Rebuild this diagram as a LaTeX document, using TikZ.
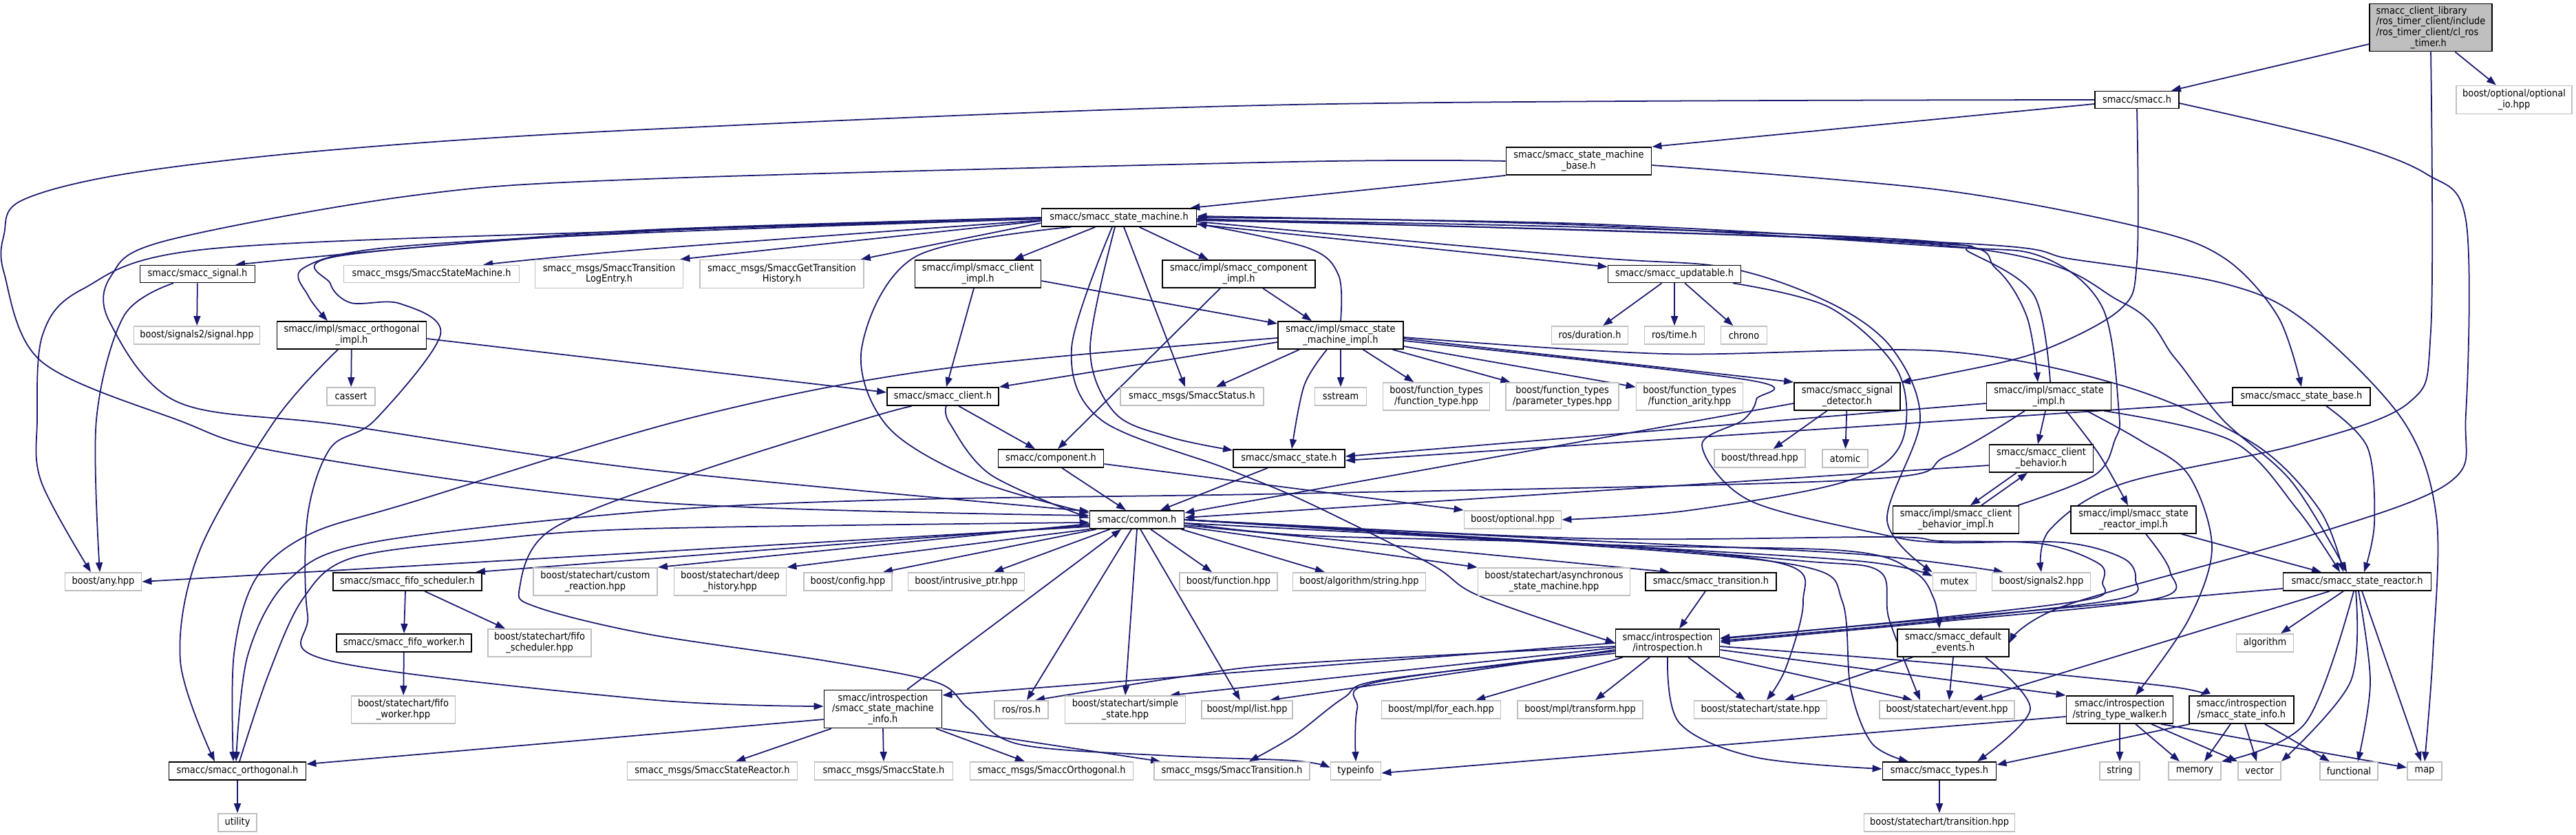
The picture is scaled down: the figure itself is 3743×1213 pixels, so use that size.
\documentclass[tikz,border=0pt]{standalone}
\usepackage{fontspec}
\setmainfont{DejaVu Sans Condensed}
\usetikzlibrary{arrows.meta,backgrounds}
\definecolor{edgeblue}{RGB}{25,25,112}
\definecolor{extgray}{RGB}{191,191,191}
\definecolor{rootgray}{RGB}{191,191,191}
\newcommand{\nfs}{\fontsize{4.1pt}{4.45pt}\selectfont}
\begin{document}
\begin{tikzpicture}[x=0.01cm,y=-0.01cm,
  pn/.style={draw=black, fill=white, line width=0.5pt, inner sep=0pt, align=center, font=\nfs},
  xn/.style={draw=extgray, fill=white, line width=0.5pt, inner sep=0pt, align=center, font=\nfs},
  sz/.style 2 args={minimum width=#1*0.01cm, minimum height=#2*0.01cm},
  edg/.style={draw=edgeblue, line width=0.5pt, -{Triangle[length=0.14cm,width=0.1cm]}},
  sm/.style={smooth, tension=0.55}]
\useasboundingbox (0,0) rectangle (3743,1213);
% ---------- project nodes
\node[pn, fill=rootgray, sz={178}{69}, align=left] (root) at (3532,40) {smacc\_client\_library\\/ros\_timer\_client/include\\/ros\_timer\_client/cl\_ros\\\hspace*{0.5cm}\_timer.h};
\node[pn, sz={122}{25}] (smacch) at (3105,145) {smacc/smacc.h};
\node[pn, sz={211}{40}] (smb) at (2294,234) {smacc/smacc\_state\_machine\\\_base.h};
\node[pn, sz={225}{26}] (smh) at (1626,316) {smacc/smacc\_state\_machine.h};
\node[pn, sz={167}{25}] (sigh) at (287,398) {smacc/smacc\_signal.h};
\node[pn, sz={183}{40}] (climpl) at (1421,398) {smacc/impl/smacc\_client\\\_impl.h};
\node[pn, sz={222}{40}] (compimpl) at (1800,398) {smacc/impl/smacc\_component\\\_impl.h};
\node[pn, sz={193}{25}] (upd) at (2433,398) {smacc/smacc\_updatable.h};
\node[pn, sz={217}{40}] (orthimpl) at (511,487) {smacc/impl/smacc\_orthogonal\\\_impl.h};
\node[pn, sz={182}{40}] (smimpl) at (1948,487) {smacc/impl/smacc\_state\\\_machine\_impl.h};
\node[pn, sz={162}{26}] (clh) at (1370,576) {smacc/smacc\_client.h};
\node[pn, sz={154}{40}] (sigdet) at (2684,576) {smacc/smacc\_signal\\\_detector.h};
\node[pn, sz={181}{40}] (stimpl) at (2977,576) {smacc/impl/smacc\_state\\\_impl.h};
\node[pn, sz={200}{26}] (stbase) at (3344,576) {smacc/smacc\_state\_base.h};
\node[pn, sz={153}{26}] (comph) at (1527,666) {smacc/component.h};
\node[pn, sz={162}{26}] (sstate) at (1873,666) {smacc/smacc\_state.h};
\node[pn, sz={151}{40}] (cb) at (2966,666) {smacc/smacc\_client\\\_behavior.h};
\node[pn, sz={137}{26}] (common) at (1652,755) {smacc/common.h};
\node[pn, sz={183}{40}] (cbimpl) at (2842,755) {smacc/impl/smacc\_client\\\_behavior\_impl.h};
\node[pn, sz={182}{40}] (srimpl) at (3100,755) {smacc/impl/smacc\_state\\\_reactor\_impl.h};
\node[pn, sz={216}{26}] (fifosch) at (592,845) {smacc/smacc\_fifo\_scheduler.h};
\node[pn, sz={190}{26}] (trans) at (2486,845) {smacc/smacc\_transition.h};
\node[pn, sz={215}{26}] (sr) at (3425,845) {smacc/smacc\_state\_reactor.h};
\node[pn, sz={196}{26}] (fifowk) at (587,934) {smacc/smacc\_fifo\_worker.h};
\node[pn, sz={151}{40}] (intro) at (2423,934) {smacc/introspection\\/introspection.h};
\node[pn, sz={162}{40}] (defev) at (2838,934) {smacc/smacc\_default\\\_events.h};
\node[pn, sz={171}{55}] (sminfo) at (1283,1030) {smacc/introspection\\/smacc\_state\_machine\\\_info.h};
\node[pn, sz={155}{40}] (stw) at (3080,1031) {smacc/introspection\\/string\_type\_walker.h};
\node[pn, sz={152}{40}] (stinfo) at (3257,1031) {smacc/introspection\\/smacc\_state\_info.h};
\node[pn, sz={199}{26}] (orth) at (345,1120) {smacc/smacc\_orthogonal.h};
\node[pn, sz={165}{26}] (types) at (2818,1120) {smacc/smacc\_types.h};
% ---------- external nodes
\node[xn, sz={168}{41}] (optio) at (3653,145) {boost/optional/optional\\\_io.hpp};
\node[xn, sz={255}{25}] (msgsm) at (627,398) {smacc\_msgs/SmaccStateMachine.h};
\node[xn, sz={215}{41}] (msglog) at (885,398) {smacc\_msgs/SmaccTransition\\LogEntry.h};
\node[xn, sz={238}{41}] (msggth) at (1136,398) {smacc\_msgs/SmaccGetTransition\\History.h};
\node[xn, sz={183}{26}] (sigsig) at (286,487) {boost/signals2/signal.hpp};
\node[xn, sz={111}{26}] (dur) at (2310,487) {ros/duration.h};
\node[xn, sz={87}{26}] (rtime) at (2433,487) {ros/time.h};
\node[xn, sz={67}{26}] (chrono) at (2534,487) {chrono};
\node[xn, sz={70}{26}] (cassert) at (510,576) {cassert};
\node[xn, sz={208}{26}] (msgstat) at (1732,576) {smacc\_msgs/SmaccStatus.h};
\node[xn, sz={75}{26}] (sstream) at (1948,576) {sstream};
\node[xn, sz={155}{40}] (ftype) at (2087,576) {boost/function\_types\\/function\_type.hpp};
\node[xn, sz={164}{40}] (ptypes) at (2270,576) {boost/function\_types\\/parameter\_types.hpp};
\node[xn, sz={155}{40}] (farity) at (2455,576) {boost/function\_types\\/function\_arity.hpp};
\node[xn, sz={132}{26}] (thread) at (2557,666) {boost/thread.hpp};
\node[xn, sz={66}{26}] (atomic) at (2681,666) {atomic};
\node[xn, sz={141}{26}] (opt) at (2198,755) {boost/optional.hpp};
\node[xn, sz={111}{26}] (anyh) at (150,845) {boost/any.hpp};
\node[xn, sz={180}{40}] (custom) at (865,845) {boost/statechart/custom\\\_reaction.hpp};
\node[xn, sz={163}{40}] (deep) at (1061,845) {boost/statechart/deep\\\_history.hpp};
\node[xn, sz={128}{26}] (config) at (1232,845) {boost/config.hpp};
\node[xn, sz={169}{26}] (intr) at (1404,845) {boost/intrusive\_ptr.hpp};
\node[xn, sz={142}{26}] (func) at (1785,845) {boost/function.hpp};
\node[xn, sz={193}{26}] (algstr) at (1975,845) {boost/algorithm/string.hpp};
\node[xn, sz={221}{40}] (async) at (2258,845) {boost/statechart/asynchronous\\\_state\_machine.hpp};
\node[xn, sz={63}{26}] (mutex) at (2840,845) {mutex};
\node[xn, sz={143}{26}] (sigtwo) at (2966,845) {boost/signals2.hpp};
\node[xn, sz={150}{40}] (fifoschhpp) at (784,934) {boost/statechart/fifo\\\_scheduler.hpp};
\node[xn, sz={83}{26}] (algo) at (3291,934) {algorithm};
\node[xn, sz={151}{40}] (fifowkhpp) at (586,1031) {boost/statechart/fifo\\\_worker.hpp};
\node[xn, sz={78}{26}] (ros) at (1484,1031) {ros/ros.h};
\node[xn, sz={175}{40}] (simple) at (1635,1031) {boost/statechart/simple\\\_state.hpp};
\node[xn, sz={132}{26}] (mpllist) at (1812,1031) {boost/mpl/list.hpp};
\node[xn, sz={173}{26}] (foreach) at (2094,1031) {boost/mpl/for\_each.hpp};
\node[xn, sz={182}{26}] (transf) at (2296,1031) {boost/mpl/transform.hpp};
\node[xn, sz={193}{26}] (scstate) at (2558,1031) {boost/statechart/state.hpp};
\node[xn, sz={196}{26}] (event) at (2829,1031) {boost/statechart/event.hpp};
\node[xn, sz={247}{26}] (msgsr) at (1035,1120) {smacc\_msgs/SmaccStateReactor.h};
\node[xn, sz={201}{26}] (msgst) at (1284,1120) {smacc\_msgs/SmaccState.h};
\node[xn, sz={237}{26}] (msgorth) at (1528,1120) {smacc\_msgs/SmaccOrthogonal.h};
\node[xn, sz={226}{26}] (msgtr) at (1790,1120) {smacc\_msgs/SmaccTransition.h};
\node[xn, sz={73}{26}] (typeinfo) at (1970,1120) {typeinfo};
\node[xn, sz={58}{26}] (string) at (3080,1120) {string};
\node[xn, sz={76}{26}] (memory) at (3189,1120) {memory};
\node[xn, sz={62}{26}] (vector) at (3283,1120) {vector};
\node[xn, sz={84}{26}] (functional) at (3413,1120) {functional};
\node[xn, sz={50}{26}] (maph) at (3523,1120) {map};
\node[xn, sz={56}{26}] (utility) at (345,1195) {utility};
\node[xn, sz={219}{26}] (trhpp) at (2818,1195) {boost/statechart/transition.hpp};

\begin{pgfonlayer}{background}
\fill[white] (0,0) rectangle (3743,1213);
% root
\draw[edg] (root.195) -- ([xshift=-0.12cm]smacch.north east);
\draw[edg] (root.-45) -- ([xshift=-0.26cm]optio.north);
\draw[edg] plot[sm] coordinates {(root.south) (3532,480) (3500,585) (3338,646) (3083,703) (2978,770) (sigtwo.north)};
% smacc.h
\draw[edg] ([yshift=-0.06cm]smacch.west) -- (smb.north east);
\draw[edg] plot[sm] coordinates {(smacch.west) (1880,152) (940,188) (480,218) (180,253) (30,292) (6,340) (6,397) (60,525) (258,610) (420,659) (940,729) (common.175)};
\draw[edg] plot[sm] coordinates {(smacch.south) (3105,380) (3080,450) (2960,512) (2820,545) (sigdet.north east)};
\draw[edg] plot[sm] coordinates {([yshift=-0.05cm]smacch.east) (3400,205) (3526,253) (3583,320) (3583,600) (3560,700) (3350,780) (3000,880) (defev.east)};
% base
\draw[edg] (smb.south west) -- ([xshift=-0.1cm]smh.north east);
\draw[edg] plot[sm] coordinates {(smb.west) (1880,235) (940,260) (600,284) (240,350) (162,400) (159,467) (258,584) (500,618) (940,682) (common.170)};
\draw[edg] plot[sm] coordinates {([yshift=-0.06cm]smb.east) (2820,276) (3114,331) (3232,375) (3310,460) (stbase.north)};
% state machine
\draw[edg] plot[sm] coordinates {(smh.west) (940,334) (600,360) ([xshift=0.55cm]sigh.north)};
\draw[edg] plot[sm] coordinates {([yshift=-0.04cm]smh.west) (940,362) ([xshift=0.75cm]msgsm.north)};
\draw[edg] ([yshift=-0.05cm]smh.west) -- ([xshift=-0.05cm]msglog.north east);
\draw[edg] ([yshift=-0.08cm]smh.west) -- ([xshift=-0.05cm]msggth.north east);
\draw[edg] (smh) -- (climpl);
\draw[edg] (smh) -- (compimpl);
\draw[edg] ([yshift=-0.1cm]smh.east) -- ([yshift=-0.03cm]upd.north west);
\draw[edg] plot[sm] coordinates {([yshift=-0.02cm]smh.west) (940,338) (560,360) (440,390) (448,430) ([xshift=-0.35cm]orthimpl.north)};
\draw[edg] plot[sm] coordinates {([yshift=-0.02cm]smh.west) (940,335) (300,362) (120,420) (62,486) (54,610) (60,700) ([xshift=-0.18cm]anyh.north)};
\draw[edg] plot[sm] coordinates {(smh.west) (940,336) (492,372) (480,412) (510,440) (581,441) (640,486) (545,610) (480,651) (447,749) (447,893) (480,960) (940,1016) ([yshift=0.04cm]sminfo.west)};
\draw[edg] plot[sm] coordinates {([xshift=-0.7cm]smh.south) (1330,373) (1252,506) (1290,620) (1420,698) (common.172)};
\draw[edg] plot[sm] coordinates {([xshift=-0.1cm]smh.south) (1557,506) (1600,610) (1780,680) (1900,730) (2078,819) (2150,866) (intro.west)};
\draw[edg] plot[sm] coordinates {([xshift=-0.06cm]smh.south) (1584,506) (1620,600) (1700,635) ([yshift=-0.02cm]sstate.north west)};
\draw[edg] ([xshift=0.07cm]smh.south) -- ([xshift=-0.1cm]msgstat.north);
\draw[edg] plot[sm] coordinates {([yshift=-0.03cm]smh.east) (2300,330) (2820,352) (2900,390) (2945,460) ([xshift=-0.16cm]stimpl.north)};
\draw[edg] plot[sm] coordinates {([xshift=0.02cm]stimpl.north) (2955,428) (2861,366) (2820,354) (2300,325) (smh.east)};
\draw[edg] plot[sm] coordinates {([xshift=0.9cm]cbimpl.north) (3044,690) (3073,639) (3079,600) (3055,447) (2967,373) (2820,358) (2300,327) ([yshift=0.02cm]smh.east)};
\draw[edg] plot[sm] coordinates {([yshift=-0.04cm]smh.east) (2820,356) (3085,440) (3160,520) (3230,610) (3330,700) ([xshift=-0.15cm]sr.north)};
\draw[edg] plot[sm] coordinates {([yshift=-0.02cm]smh.east) (2820,352) (3014,377) (3232,412) (3350,467) (3491,610) (3540,750) (3535,950) (maph.north)};
\draw[edg] plot[sm] coordinates {([yshift=-0.06cm]smh.east) (2300,373) (2510,389) (2659,440) (2749,506) (2790,610) (2742,756) (mutex.north west)};
% signal
\draw[edg] (sigh) -- (sigsig);
\draw[edg] plot[sm] coordinates {([xshift=-0.35cm]sigh.south) (180,459) (140,610) ([xshift=-0.05cm]anyh.north)};
% orthogonal impl
\draw[edg] (orthimpl) -- (cassert);
\draw[edg] ([yshift=-0.05cm]orthimpl.east) -- ([yshift=0.06cm]clh.west);
\draw[edg] plot[sm] coordinates {([xshift=-0.2cm]orthimpl.south) (400,610) (290,800) (262,960) ([xshift=-0.33cm]orth.north)};
% client impl / component impl
\draw[edg] ([xshift=-0.06cm]climpl.south) -- ([xshift=0.05cm]clh.north);
\draw[edg] ([yshift=-0.1cm]climpl.east) -- ([yshift=-0.04cm]smimpl.north west);
\draw[edg] ([xshift=0.35cm]compimpl.south) -- ([xshift=-0.42cm]smimpl.north);
\draw[edg] ([xshift=-0.27cm]compimpl.south) -- ([xshift=0.1cm]comph.north);
% updatable
\draw[edg] (upd) -- (dur);
\draw[edg] (upd) -- (rtime);
\draw[edg] (upd) -- (chrono);
\draw[edg] plot[sm] coordinates {([xshift=0.85cm]upd.south) (2659,447) (2758,540) (2762,645) (2680,700) (2450,742) (opt.east)};
% state machine impl
\draw[edg] plot[sm] coordinates {(smimpl.north) (1945,400) (1900,360) ([yshift=-0.09cm]smh.east)};
\draw[edg] ([xshift=-0.6cm]smimpl.south) -- ([xshift=0.35cm]msgstat.north);
\draw[edg] (smimpl.south) -- (sstream.north);
\draw[edg] (smimpl) -- (ftype);
\draw[edg] (smimpl) -- (ptypes);
\draw[edg] (smimpl) -- (farity);
\draw[edg] ([yshift=-0.05cm]smimpl.east) -- (sigdet.north west);
\draw[edg] plot[sm] coordinates {([xshift=-0.2cm]smimpl.south) (1895,560) ([xshift=0.04cm]sstate.north)};
\draw[edg] ([yshift=-0.1cm]smimpl.west) -- (clh.north east);
\draw[edg] plot[sm] coordinates {([yshift=-0.04cm]smimpl.west) (1360,537) (1000,608) (600,729) (450,776) (372,840) (340,950) ([xshift=-0.06cm]orth.north)};
\draw[edg] plot[sm] coordinates {([yshift=-0.03cm]smimpl.east) (2420,514) (2820,510) (3083,560) (3274,644) (3370,740) ([xshift=-0.2cm]sr.north)};
\draw[edg] plot[sm] coordinates {([yshift=-0.08cm]smimpl.east) (2540,552) (2552,580) (2533,610) (2473,647) (2542,727) (2733,776) (2820,788) (2997,788) (3085,811) (3103,842) (3079,870) (2820,901) ([yshift=0.03cm]intro.east)};
% client.h
\draw[edg] ([xshift=0.23cm]clh.south) -- ([xshift=-0.23cm]comph.north);
\draw[edg] plot[sm] coordinates {([xshift=0.05cm]clh.south) (1380,615) (1440,690) (common.178)};
\draw[edg] plot[sm] coordinates {([xshift=-0.45cm]clh.south) (1252,610) (1000,690) (800,770) (755,854) (780,882) (940,921) (1200,960) (1360,991) (1408,1030) (1480,1081) (1700,1098) (1880,1105) ([yshift=0.05cm]typeinfo.west)};
% signal detector
\draw[edg] (sigdet) -- (thread);
\draw[edg] (sigdet) -- (atomic);
\draw[edg] ([yshift=-0.1cm]sigdet.west) -- ([yshift=0.1cm]common.east);
% state impl
\draw[edg] ([yshift=-0.1cm]stimpl.west) -- ([yshift=0.03cm]sstate.east);
\draw[edg] ([yshift=-0.08cm]stbase.west) -- ([yshift=-0.03cm]sstate.east);
\draw[edg] ([xshift=-0.05cm]stimpl.south) -- ([xshift=-0.05cm]cb.north);
\draw[edg] plot[sm] coordinates {([xshift=0.25cm]stimpl.south) (3050,660) ([xshift=-0.08cm]srimpl.north)};
\draw[edg] plot[sm] coordinates {([xshift=0.8cm]stimpl.south) (3242,640) (3338,740) ([xshift=-0.25cm]sr.north)};
\draw[edg] plot[sm] coordinates {([xshift=0.55cm]stimpl.south) (3110,640) (3180,690) (3214,795) (3180,900) ([xshift=0.23cm]stw.north)};
\draw[edg] plot[sm] coordinates {([xshift=-0.35cm]stimpl.south) (2828,663) (2700,697) (1880,717) (1300,726) (940,743) (540,788) (420,842) (360,952) ([xshift=-0.02cm]orth.north)};
% state base
\draw[edg] plot[sm] coordinates {([xshift=0.36cm]stbase.south) (3440,650) (3450,760) ([xshift=0.1cm]sr.north)};
% component, smacc_state
\draw[edg] ([xshift=0.16cm]comph.south) -- ([xshift=-0.16cm]common.north);
\draw[edg] ([yshift=-0.08cm]comph.east) -- (opt.north west);
\draw[edg] ([xshift=-0.31cm]sstate.south) -- ([xshift=0.34cm]common.north);
% client behavior
\draw[edg] ([xshift=-0.36cm]cb.south) -- ([xshift=0.21cm]cbimpl.north);
\draw[edg] ([xshift=0.37cm]cbimpl.north) -- ([xshift=-0.2cm]cb.south);
\draw[edg] ([yshift=-0.1cm]cb.west) -- ([yshift=0.03cm]common.east);
% state reactor impl
\draw[edg] ([xshift=0.7cm]srimpl.south) -- ([xshift=-0.52cm]sr.north);
\draw[edg] plot[sm] coordinates {([xshift=0.18cm]srimpl.south) (3153,830) (3132,870) (2820,903) ([yshift=0.01cm]intro.east)};
% common
\draw[edg] ([yshift=-0.1cm]common.west) -- (anyh.east);
\draw[edg] ([yshift=-0.08cm]common.west) -- ([xshift=-0.1cm]fifosch.north east);
\draw[edg] ([yshift=-0.06cm]common.west) -- (custom.north east);
\draw[edg] (common.south west) -- (deep.north east);
\draw[edg] ([xshift=0.1cm]common.south west) -- ([xshift=-0.14cm]config.north east);
\draw[edg] ([xshift=0.3cm]common.south west) -- ([xshift=0.4cm]intr.north);
\draw[edg] ([xshift=0.2cm]common.south) -- ([xshift=-0.24cm]func.north);
\draw[edg] ([xshift=-0.05cm]common.south east) -- ([xshift=-0.5cm]algstr.north);
\draw[edg] ([yshift=-0.1cm]common.east) -- (async.north west);
\draw[edg] ([yshift=-0.08cm]common.east) -- ([xshift=-0.6cm]trans.north);
\draw[edg] plot[sm] coordinates {([yshift=-0.05cm]common.east) (1900,778) (2300,790) (2590,819) (2620,874) (2595,970) ([xshift=0.09cm]scstate.north)};
\draw[edg] plot[sm] coordinates {([yshift=-0.05cm]common.east) (2300,792) (2620,823) (2677,874) (2689,1000) (2720,1080) ([xshift=-0.45cm]types.north)};
\draw[edg] plot[sm] coordinates {(common.east) (2300,790) (2620,815) (2731,830) (2745,900) ([xshift=-0.39cm]event.north)};
\draw[edg] plot[sm] coordinates {(common.east) (2300,790) (2700,815) ([yshift=0.08cm]mutex.west)};
\draw[edg] plot[sm] coordinates {(common.east) (2300,785) (2700,805) ([xshift=-0.55cm]sigtwo.north)};
\draw[edg] plot[sm] coordinates {(common.east) (2300,790) (2680,800) (2780,830) (2810,870) ([xshift=-0.2cm]defev.north)};
\draw[edg] plot[sm] coordinates {(common.east) (2300,782) (2740,780) (2820,786) (2967,790) (3050,819) (3055,846) (3038,870) (2820,897) ([yshift=0.06cm]intro.east)};
\draw[edg] ([xshift=-0.08cm]common.south) -- ([xshift=0.08cm]ros.north);
\draw[edg] (common.south) -- (simple.north);
\draw[edg] ([xshift=0.05cm]common.south) -- ([xshift=-0.1cm]mpllist.north);
% fifo
\draw[edg] ([xshift=-0.03cm]fifosch.south) -- (fifowk.north);
\draw[edg] ([xshift=0.25cm]fifosch.south) -- ([xshift=-0.5cm]fifoschhpp.north);
\draw[edg] (fifowk) -- (fifowkhpp);
% transition
\draw[edg] ([xshift=-0.08cm]trans.south) -- ([xshift=0.17cm]intro.north);
% introspection
\draw[edg] (intro.west) -- ([yshift=0.2cm]sminfo.east);
\draw[edg] plot[sm] coordinates {([yshift=-0.05cm]intro.west) (1880,964) (1719,983) ([xshift=0.2cm]ros.north)};
\draw[edg] ([yshift=-0.07cm]intro.west) -- ([xshift=0.65cm]simple.north);
\draw[edg] ([yshift=-0.1cm]intro.west) -- ([xshift=0.33cm]mpllist.north);
\draw[edg] plot[sm] coordinates {([yshift=-0.12cm]intro.west) (2000,991) (1972,1030) (typeinfo.north)};
\draw[edg] ([xshift=-0.65cm]intro.south) -- ([xshift=0.5cm]foreach.north);
\draw[edg] ([xshift=-0.26cm]intro.south) -- ([xshift=0.22cm]transf.north);
\draw[edg] ([xshift=0.3cm]intro.south) -- ([xshift=-0.22cm]scstate.north);
\draw[edg] (intro.south east) -- ([xshift=-0.5cm]event.north);
\draw[edg] plot[sm] coordinates {(intro.south) (2440,1050) (2550,1100) ([yshift=0.03cm]types.west)};
\draw[edg] ([yshift=-0.1cm]intro.east) -- (stw.north west);
\draw[edg] plot[sm] coordinates {([yshift=-0.05cm]intro.east) (2820,964) (3150,997) ([xshift=-0.6cm]stinfo.north)};
\draw[edg] plot[sm] coordinates {([yshift=-0.15cm]intro.west) (2012,987) (1952,1014) (1880,1069) ([xshift=0.25cm]msgtr.north)};
% state machine info
\draw[edg] ([xshift=0.35cm]sminfo.north) -- ([xshift=-0.23cm]common.south);
\draw[edg] ([xshift=-0.75cm]sminfo.south) -- ([xshift=0.34cm]msgsr.north);
\draw[edg] (sminfo.south) -- (msgst.north);
\draw[edg] ([xshift=0.77cm]sminfo.south) -- ([xshift=-0.39cm]msgorth.north);
\draw[edg] (sminfo.south east) -- ([xshift=0.1cm]msgtr.north west);
\draw[edg] ([yshift=-0.15cm]sminfo.west) -- ([yshift=0.1cm]orth.east);
% orthogonal
\draw[edg] plot[sm] coordinates {([xshift=0.03cm]orth.north) (390,980) (440,870) (510,811) (700,785) (940,768) ([yshift=-0.04cm]common.west)};
\draw[edg] (orth) -- (utility);
% string type walker
\draw[edg] (stw.south) -- (string.north);
\draw[edg] ([xshift=0.23cm]stw.south) -- ([xshift=-0.22cm]memory.north);
\draw[edg] ([xshift=0.46cm]stw.south) -- (vector.north west);
\draw[edg] ([xshift=0.6cm]stw.south) -- ([yshift=0.05cm]maph.west);
\draw[edg] ([yshift=-0.1cm]stw.west) -- ([yshift=-0.03cm]typeinfo.east);
% state info
\draw[edg] ([xshift=-0.16cm]stinfo.south) -- ([xshift=0.14cm]memory.north);
\draw[edg] ([xshift=0.05cm]stinfo.south) -- ([xshift=-0.04cm]vector.north);
\draw[edg] ([xshift=0.34cm]stinfo.south) -- ([xshift=-0.28cm]functional.north);
\draw[edg] ([xshift=-0.75cm]stinfo.south) -- ([yshift=0.09cm]types.east);
% state reactor
\draw[edg] ([yshift=-0.1cm]sr.west) -- ([yshift=0.07cm]intro.east);
\draw[edg] ([xshift=-0.2cm]sr.south) -- ([xshift=0.23cm]algo.north);
\draw[edg] ([xshift=-0.4cm]sr.south) -- ([xshift=0.38cm]event.north);
\draw[edg] plot[sm] coordinates {([xshift=-0.05cm]sr.south) (3350,1050) (memory.north east)};
\draw[edg] plot[sm] coordinates {([xshift=-0.02cm]sr.south) (3415,991) (vector.north east)};
\draw[edg] plot[sm] coordinates {([xshift=0.02cm]sr.south) (3444,991) ([xshift=0.13cm]functional.north)};
\draw[edg] ([xshift=0.07cm]sr.south) -- ([xshift=-0.05cm]maph.north);
% default events
\draw[edg] (defev.south) -- ([xshift=0.03cm]event.north);
\draw[edg] plot[sm] coordinates {([xshift=0.47cm]defev.south) (2950,1030) ([xshift=0.55cm]types.north)};
\draw[edg] ([xshift=-0.59cm]defev.south) -- ([xshift=0.35cm]scstate.north);
% types
\draw[edg] (types) -- (trhpp);
\end{pgfonlayer}
\end{tikzpicture}
\end{document}
